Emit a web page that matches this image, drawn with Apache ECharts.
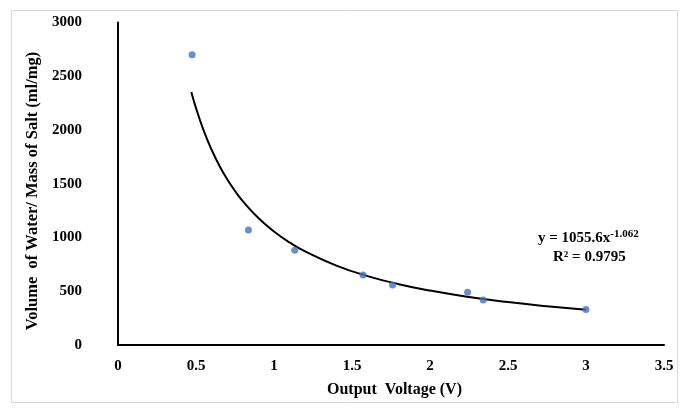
<!DOCTYPE html>
<html>
<head>
<meta charset="utf-8">
<script src="https://cdn.jsdelivr.net/npm/echarts@6/dist/echarts.min.js"></script>
<style>html,body{margin:0;padding:0;background:#fff;}#c{width:688px;height:411px;}</style>
</head>
<body>
<div id="c"></div>
<script>
// Measured points (Output Voltage V, Volume of Water / Mass of Salt ml/mg)
var voltage = [0.475, 0.836, 1.133, 1.571, 1.760, 2.241, 2.341, 3.0];
var ratio = [2700, 1070, 881, 651, 558, 490, 419, 330];
// Power trendline
var trendX = [0.47, 0.5, 0.55, 0.6, 0.65, 0.7, 0.75, 0.8, 0.9, 1.0, 1.1, 1.2, 1.4, 1.6, 1.8, 2.0, 2.25, 2.5, 2.75, 3.0];
var trendY = [2354, 2204, 1992, 1816, 1668, 1542, 1433, 1338, 1181, 1056, 954, 870, 739, 641, 566, 506, 446, 399, 361, 329];
var xTicks = [0, 0.5, 1, 1.5, 2, 2.5, 3, 3.5];
var yTicks = [0, 500, 1000, 1500, 2000, 2500, 3000];

var font = '"Liberation Serif", "Times New Roman", serif';
var chart = echarts.init(document.getElementById('c'));
chart.setOption({
  animation: false,
  backgroundColor: '#fff',
  grid: {left: 118, right: 24, top: 22.5, bottom: 66},
  xAxis: {
    type: 'value', min: xTicks[0], max: xTicks[xTicks.length - 1], interval: 0.5,
    axisLine: {lineStyle: {color: '#000', width: 2}},
    axisTick: {show: false}, splitLine: {show: false},
    axisLabel: {color: '#000', fontFamily: font, fontWeight: 'bold', fontSize: 15, margin: 14,
      formatter: function (v) { return String(v); }}
  },
  yAxis: {
    type: 'value', min: yTicks[0], max: yTicks[yTicks.length - 1], interval: 500,
    axisLine: {show: true, lineStyle: {color: '#000', width: 2}},
    axisTick: {show: false}, splitLine: {show: false},
    axisLabel: {color: '#000', fontFamily: font, fontWeight: 'bold', fontSize: 15, margin: 36,
      formatter: function (v) { return String(v); }}
  },
  graphic: [
    {type: 'rect', shape: {x: 11.5, y: 10.5, width: 666, height: 392}, style: {fill: 'none', stroke: '#d9d9d9', lineWidth: 1}, z: -1},
    {type: 'text', x: 33, y: 191, rotation: Math.PI / 2, style: {text: 'Volume  of Water/ Mass of Salt (ml/mg)', font: 'bold 16.5px ' + font, fill: '#000', align: 'center', verticalAlign: 'middle'}},
    {type: 'text', left: 327, top: 382, style: {text: 'Output  Voltage (V)', font: 'bold 16px ' + font, fill: '#000'}},
    {type: 'text', left: 538, top: 229, style: {
      text: '{b|y = 1055.6x}{s|-1.062}\n{b|    R² = 0.9795}',
      rich: {
        b: {font: 'bold 15px ' + font, fill: '#000', lineHeight: 19},
        s: {font: 'bold 11px ' + font, fill: '#000', verticalAlign: 'top', lineHeight: 19, padding: [0, 0, 8, 0]}
      }
    }}
  ],
  series: [
    {
      type: 'line', data: trendX.map(function (x, i) { return [x, trendY[i]]; }),
      smooth: true, showSymbol: false, symbol: 'none',
      lineStyle: {color: '#000', width: 2}, z: 2
    },
    {
      type: 'scatter', data: voltage.map(function (x, i) { return [x, ratio[i]]; }),
      symbolSize: 7, itemStyle: {color: '#4472C4'}, z: 3
    }
  ]
});
</script>
</body>
</html>
